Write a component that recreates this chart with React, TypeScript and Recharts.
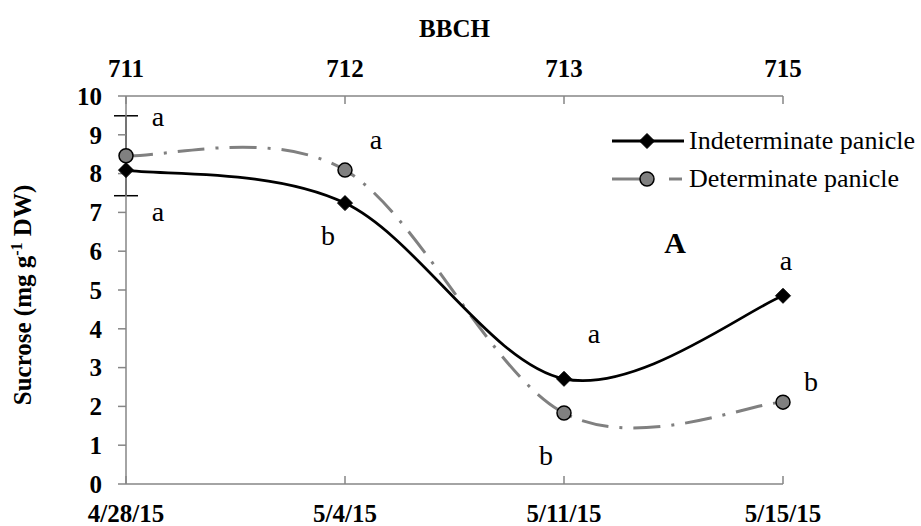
import React from 'react';
import { LineChart, Line, XAxis, YAxis, Legend, ErrorBar, LabelList, Label, Customized } from 'recharts';

const dates = ['4/28/15', '5/4/15', '5/11/15', '5/15/15'];
const bbch = ['711', '712', '713', '715'];
const indeterminate = [8.09, 7.24, 2.71, 4.85];
const determinate = [8.46, 8.09, 1.83, 2.11];
const detError: (number | null)[] = [1.03, null, null, null];
const indLetters = ['a', 'b', 'a', 'a'];
const detLetters = ['a', 'a', 'b', 'b'];
const yTicks = [0, 1, 2, 3, 4, 5, 6, 7, 8, 9, 10];
const seriesNames = ['Indeterminate panicle', 'Determinate panicle'];

// label offsets relative to each point (baseline position)
const indLetterOffsets = [[32, 51], [-17, 42], [30, -36], [3, -26]];
const detLetterOffsets = [[32, -30], [31, -21], [-18, 52], [28, -11]];

const data = dates.map((d, i) => ({
  date: d,
  bbch: bbch[i],
  ind: indeterminate[i],
  det: determinate[i],
  detErr: detError[i],
  indLetter: indLetters[i],
  detLetter: detLetters[i],
}));

const FONT = 'Liberation Serif, Times New Roman, serif';
const AXIS_GREY = '#868686';
const DET_GREY = '#808080';

// Excel-like smoothing (Catmull-Rom style Bezier)
function excelSmooth(context: any) {
  let pts: number[][] = [];
  return {
    areaStart() {},
    areaEnd() {},
    lineStart() {
      pts = [];
    },
    point(x: number, y: number) {
      pts.push([+x, +y]);
    },
    lineEnd() {
      const n = pts.length;
      if (!n) return;
      context.moveTo(pts[0][0], pts[0][1]);
      for (let i = 0; i < n - 1; i++) {
        const p0 = pts[Math.max(0, i - 1)];
        const p1 = pts[i];
        const p2 = pts[i + 1];
        const p3 = pts[Math.min(n - 1, i + 2)];
        const c1x = p1[0] + (p2[0] - p0[0]) / 6;
        const c1y = p1[1] + (p2[1] - p0[1]) / 6;
        const c2x = p2[0] - (p3[0] - p1[0]) / 6;
        const c2y = p2[1] - (p3[1] - p1[1]) / 6;
        context.bezierCurveTo(c1x, c1y, c2x, c2y, p2[0], p2[1]);
      }
    },
  };
}

const Diamond = ({ cx, cy, s = 7.5 }: any) => (
  <polygon
    points={`${cx},${cy - s} ${cx + s},${cy} ${cx},${cy + s} ${cx - s},${cy}`}
    fill="#000"
    stroke="#000"
    strokeWidth={1}
  />
);

const GreyCircle = ({ cx, cy }: any) => (
  <circle cx={cx} cy={cy} r={7} fill={DET_GREY} stroke="#000" strokeWidth={1.5} />
);

const makeLetter = (offsets: number[][]) => (props: any) => {
  const { x, y, value, index } = props;
  const vb = props.viewBox || {};
  const px = x ?? vb.x;
  const py = y ?? vb.y;
  const off = offsets[index] || [0, 0];
  return (
    <text
      key={`l-${index}`}
      x={px + off[0]}
      y={py + off[1]}
      textAnchor="middle"
      fontFamily={FONT}
      fontSize={28}
      fill="#000"
    >
      {value}
    </text>
  );
};

const LegendContent = () => (
  <div style={{ fontFamily: FONT, fontSize: 26, color: '#000' }}>
    {seriesNames.map((name: string, i: number) => (
      <div key={name} style={{ display: 'flex', alignItems: 'center', height: 38 }}>
        <svg width={72} height={38} style={{ display: 'block' }}>
          {i === 0 ? (
            <>
              <line x1={0} y1={19} x2={72} y2={19} stroke="#000" strokeWidth={3} />
              <Diamond cx={35} cy={19} />
            </>
          ) : (
            <>
              <line x1={0} y1={19} x2={28} y2={19} stroke={DET_GREY} strokeWidth={3} />
              <line x1={57} y1={19} x2={70} y2={19} stroke={DET_GREY} strokeWidth={3} />
              <GreyCircle cx={35} cy={19} />
            </>
          )}
        </svg>
        <span style={{ marginLeft: 5, whiteSpace: 'nowrap', lineHeight: '38px' }}>{name}</span>
      </div>
    ))}
  </div>
);

const tickStyle = { fill: '#000', fontSize: 25, fontWeight: 'bold', fontFamily: FONT };

const YTitle = () => (
  <text
    x={31}
    y={295}
    transform="rotate(-90, 31, 295)"
    textAnchor="middle"
    fontFamily={FONT}
    fontSize={25}
    fontWeight="bold"
    fill="#000"
  >
    Sucrose (mg g<tspan dy={-9} fontSize={16}>-1</tspan>
    <tspan dy={9}> DW)</tspan>
  </text>
);

const PanelLabel = () => (
  <text x={675} y={253} textAnchor="middle" fontFamily={FONT} fontSize={30} fontWeight="bold" fill="#000">
    A
  </text>
);

export default function App() {
  return (
    <div style={{ position: 'absolute', left: 0, top: 0, width: 921, height: 526, background: '#fff' }}>
      <LineChart width={921} height={526} data={data} margin={{ top: 0, right: 138, bottom: 0, left: 0 }}>
        <XAxis
          dataKey="date"
          scale="point"
          padding={{ left: 0, right: 0 }}
          height={42}
          interval={0}
          tick={tickStyle}
          tickSize={-8}
          tickMargin={28}
          axisLine={{ stroke: AXIS_GREY, strokeWidth: 1.5 }}
          tickLine={{ stroke: AXIS_GREY, strokeWidth: 1.5 }}
        />
        <XAxis
          xAxisId="top"
          orientation="top"
          dataKey="bbch"
          scale="point"
          padding={{ left: 0, right: 0 }}
          height={96}
          interval={0}
          tick={tickStyle}
          tickSize={-8}
          tickMargin={27}
          axisLine={{ stroke: AXIS_GREY, strokeWidth: 1.5 }}
          tickLine={{ stroke: AXIS_GREY, strokeWidth: 1.5 }}
        >
          <Label
            value="BBCH"
            position="insideTop"
            offset={19}
            fontSize={25}
            fontWeight="bold"
            fontFamily={FONT}
            fill="#000"
          />
        </XAxis>
        <YAxis
          width={126}
          domain={[0, 10]}
          ticks={yTicks}
          interval={0}
          tick={tickStyle}
          tickSize={8}
          tickMargin={16}
          axisLine={{ stroke: AXIS_GREY, strokeWidth: 1.5 }}
          tickLine={{ stroke: AXIS_GREY, strokeWidth: 1.5 }}
        />
        <Legend
          layout="horizontal"
          verticalAlign="middle"
          align="center"
          content={LegendContent}
          wrapperStyle={{ position: 'absolute', left: 612, top: 122, width: 309 }}
        />
        <Line
          dataKey="det"
          name="Determinate panicle"
          type={excelSmooth as any}
          stroke={DET_GREY}
          strokeWidth={3}
          strokeDasharray="27 11 3 11"
          isAnimationActive={false}
          dot={(p: any) => <GreyCircle key={`d-${p.index}`} cx={p.cx} cy={p.cy} />}
          activeDot={false}
        >
          <ErrorBar dataKey="detErr" direction="y" width={12} stroke="#000" strokeWidth={1.5} />
          <LabelList dataKey="detLetter" content={makeLetter(detLetterOffsets)} />
        </Line>
        <Line
          dataKey="ind"
          name="Indeterminate panicle"
          type={excelSmooth as any}
          stroke="#000"
          strokeWidth={2.75}
          isAnimationActive={false}
          dot={(p: any) => <Diamond key={`i-${p.index}`} cx={p.cx} cy={p.cy} />}
          activeDot={false}
        >
          <LabelList dataKey="indLetter" content={makeLetter(indLetterOffsets)} />
        </Line>
        <Customized component={YTitle} />
        <Customized component={PanelLabel} />
      </LineChart>
    </div>
  );
}
